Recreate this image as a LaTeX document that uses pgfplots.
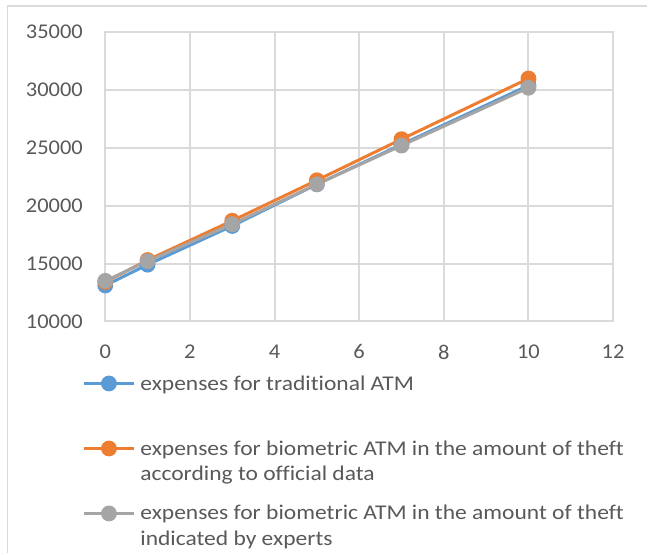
\documentclass[border=0pt]{standalone}
\usepackage{pgfplots}
\pgfplotsset{compat=1.18}
\usepackage{fontspec}
\setmainfont{Carlito}
\newfontfamily\legendfont{Carlito}[FakeStretch=1.12, Ligatures=NoCommon]
\newfontfamily\tickfont{Carlito}[FakeStretch=1.07]

\definecolor{sblue}{HTML}{5B9BD5}
\definecolor{sorange}{HTML}{ED7D31}
\definecolor{sgray}{HTML}{A5A5A5}
\definecolor{gridc}{HTML}{DADADA}
\definecolor{txt}{HTML}{595959}

\begin{document}
\begin{tikzpicture}
  % page area and outer frame (top and left edges)
  \path (0bp,0bp) rectangle (648bp,554bp);
  \draw[gridc, line width=1.5bp] (7.5bp,0bp) -- (7.5bp,548bp) -- (648bp,548bp);

  \begin{axis}[
    at={(105.4bp,232.3bp)}, anchor=south west,
    scale only axis,
    width=508.4bp, height=289.4bp,
    xmin=0, xmax=12, ymin=10000, ymax=35000,
    xtick={0,2,...,12},
    ytick={10000,15000,...,35000},
    scaled ticks=false,
    grid=major,
    major grid style={gridc, line width=2bp},
    axis line style={gridc, line width=2bp},
    tick style={draw=none},
    /pgf/number format/assume math mode=true,
    /pgf/number format/1000 sep={},
    tick label style={font=\tickfont\fontsize{21bp}{25bp}\selectfont, text=txt},
    xticklabel style={yshift=-20bp},
    yticklabel style={xshift=-19bp},
    legend cell align=left,
    legend style={
      at={(rel axis cs:0,0)}, anchor=north west,
      xshift=-26bp, yshift=-50bp,
      draw=none, fill=none,
      font=\legendfont\fontsize{21bp}{26bp}\selectfont,
      text=txt,
      row sep=19bp,
      cells={align=left},
      /tikz/every even column/.append style={column sep=0bp},
    },
    % the sample sits level with the first line of each two-line entry
    legend image code/.code={
      \path (0bp,-19.2bp) (53bp,19.2bp);
      \draw[mark repeat=2, mark phase=2] plot coordinates {(0bp,13bp) (25bp,13bp) (50bp,13bp)};
    },
    every axis plot/.append style={line width=3bp, mark=*, mark size=6.4bp},
  ]
    \addplot[color=sblue, mark options={fill=sblue, draw=sblue}] coordinates {
      (0,13100) (1,14900) (3,18250) (5,21850) (7,25300) (10,30400)
    };
    \addlegendentry{expenses for traditional ATM\\ \strut}
    \addplot[color=sorange, mark options={fill=sorange, draw=sorange}] coordinates {
      (0,13400) (1,15300) (3,18700) (5,22200) (7,25750) (10,31000)
    };
    \addlegendentry{expenses for biometric ATM in the amount of theft\\according to official data}
    \addplot[color=sgray, mark options={fill=sgray, draw=sgray}] coordinates {
      (0,13500) (1,15200) (3,18400) (5,21850) (7,25200) (10,30200)
    };
    \addlegendentry{expenses for biometric ATM in the amount of theft\\indicated by experts}
  \end{axis}
\end{tikzpicture}
\end{document}
